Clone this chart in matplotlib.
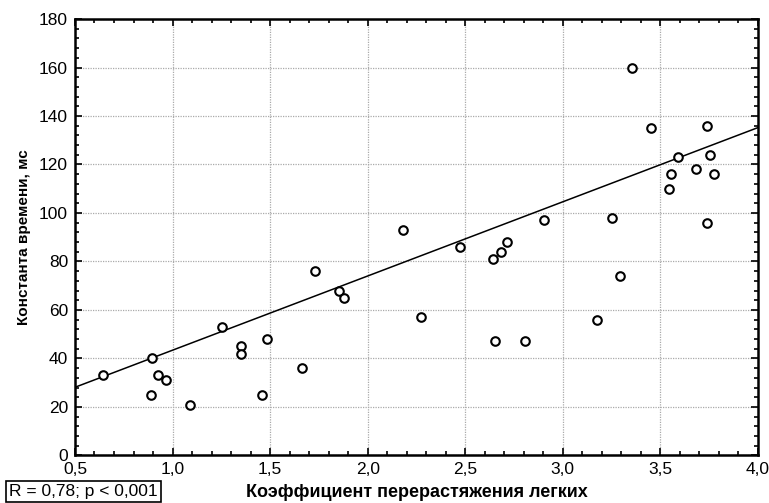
import numpy as np
import matplotlib
matplotlib.use("Agg")
import matplotlib.pyplot as plt
from matplotlib.ticker import MultipleLocator, FuncFormatter

# коэффициент перерастяжения легких vs константа времени
kpl = [0.645, 0.889, 0.897, 0.928, 0.966, 1.091, 1.252, 1.349, 1.349, 1.461,
       1.485, 1.663, 1.732, 1.851, 1.881, 2.18, 2.273, 2.472, 2.644, 2.655,
       2.682, 2.716, 2.808, 2.903, 3.178, 3.25, 3.296, 3.355, 3.45, 3.546,
       3.556, 3.59, 3.683, 3.741, 3.74, 3.757, 3.774]
tau = [33, 25, 40, 33, 31, 21, 53, 45, 42, 25,
       48, 36, 76, 68, 65, 93, 57, 86, 81, 47,
       84, 88, 47, 97, 56, 98, 74, 160, 135, 110,
       116, 123, 118, 136, 96, 124, 116]

# линия регрессии, как на исходном рисунке
fit_intercept = 12.8
fit_slope = 30.6

xlabel = "Коэффициент перерастяжения легких"
ylabel = "Константа времени, мс"
stat_text = "R = 0,78; p < 0,001"

plt.rcParams['font.family'] = ['Liberation Sans', 'DejaVu Sans']

fig = plt.figure(figsize=(7.69, 5.03), dpi=100)
ax = fig.add_axes([0.0975, 0.0946, 0.888, 0.8676])

ax.scatter(kpl, tau, s=38, facecolors='white', edgecolors='black',
           linewidths=1.5, zorder=3)

xs = np.array([0.5, 4.0])
ax.plot(xs, fit_intercept + fit_slope * xs, color='black', lw=1.1, zorder=2)

ax.set_xlim(0.5, 4.0)
ax.set_ylim(0, 180)
ax.xaxis.set_major_locator(MultipleLocator(0.5))
ax.xaxis.set_minor_locator(MultipleLocator(0.1))
ax.yaxis.set_major_locator(MultipleLocator(20))
ax.yaxis.set_minor_locator(MultipleLocator(4))
ax.xaxis.set_major_formatter(FuncFormatter(lambda v, p: ("%.1f" % v).replace('.', ',')))
ax.yaxis.set_major_formatter(FuncFormatter(lambda v, p: "%d" % v))

ax.tick_params(which='both', direction='in', top=True, right=True,
               labelsize=12.5, width=1.2)
ax.tick_params(which='major', length=5, pad=5)
ax.tick_params(which='minor', length=3)
for sp in ax.spines.values():
    sp.set_linewidth(1.8)

ax.grid(True, which='major', color='#aaaaaa', ls=(0, (1, 1)), lw=0.9)
ax.set_axisbelow(True)

ax.set_xlabel(xlabel, fontsize=13, fontweight='bold', labelpad=5)
ax.set_ylabel(ylabel, fontsize=11, fontweight='bold', labelpad=6)

fig.text(0.012, 0.008, stat_text, fontsize=12.5, ha='left', va='bottom',
         bbox=dict(boxstyle='square,pad=0.2', facecolor='white',
                   edgecolor='black', lw=1.2))

fig.savefig("out.png", dpi=100)
